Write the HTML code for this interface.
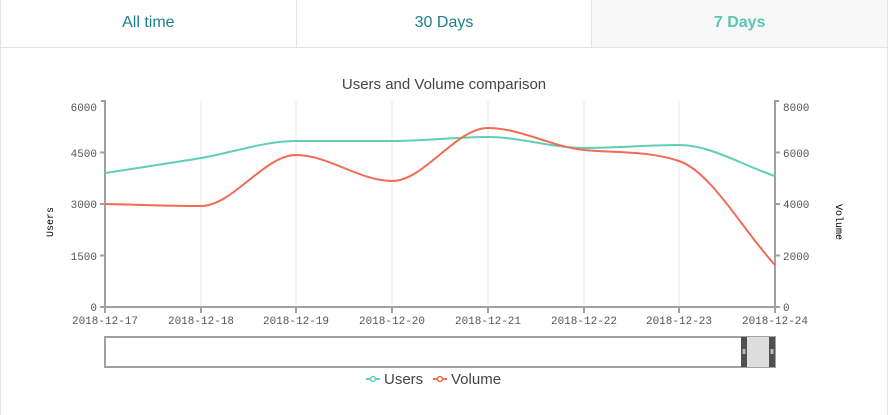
<!DOCTYPE html>
<html><head><meta charset="utf-8"><style>
body{margin:0;width:888px;height:415px;background:#fff;overflow:hidden;font-family:"Liberation Sans",sans-serif}
.tabs{position:absolute;left:0;top:0;width:886px;height:47px;border:1px solid #e4e4e4;border-top:none;display:flex}
.tab{flex:1;text-align:center;line-height:46px;font-size:16px;color:#1a7f8a;border-right:1px solid #e4e4e4}
.tab:last-child{border-right:none;background:#f8f8f8;color:#5cc6b0;font-weight:bold}
.frame{position:absolute;left:0;top:47px;width:886px;height:368px;border-left:1px solid #e4e4e4;border-right:1px solid #e4e4e4}
svg{position:absolute;left:0;top:0}
</style></head><body>
<div class="frame"></div>
<div class="tabs"><div class="tab">All time</div><div class="tab">30 Days</div><div class="tab">7 Days</div></div>
<svg width="888" height="415" id="s" font-family="Liberation Mono, monospace" font-size="11" fill="#555">
<text x="444" y="89" text-anchor="middle" font-family="Liberation Sans, sans-serif" font-size="15" fill="#444">Users and Volume comparison</text>
<g stroke="#e8e8e8" stroke-width="1">
<line x1="201" y1="101" x2="201" y2="307"/><line x1="296" y1="101" x2="296" y2="307"/><line x1="392" y1="101" x2="392" y2="307"/><line x1="488" y1="101" x2="488" y2="307"/><line x1="584" y1="101" x2="584" y2="307"/><line x1="679" y1="101" x2="679" y2="307"/>
</g>
<g stroke="#a0a0a0" stroke-width="2" fill="none">
<path d="M101 101H105V307"/><path d="M779 101H775V307"/>
<line x1="100" y1="307" x2="780" y2="307"/>
<line x1="100" y1="255.5" x2="105" y2="255.5"/><line x1="100" y1="204" x2="105" y2="204"/><line x1="100" y1="152.5" x2="105" y2="152.5"/>
<line x1="775" y1="255.5" x2="780" y2="255.5"/><line x1="775" y1="204" x2="780" y2="204"/><line x1="775" y1="152.5" x2="780" y2="152.5"/>
<line x1="201" y1="307" x2="201" y2="313"/><line x1="296" y1="307" x2="296" y2="313"/><line x1="392" y1="307" x2="392" y2="313"/><line x1="488" y1="307" x2="488" y2="313"/><line x1="584" y1="307" x2="584" y2="313"/><line x1="679" y1="307" x2="679" y2="313"/><line x1="105" y1="307" x2="105" y2="313"/><line x1="775" y1="307" x2="775" y2="313"/>
</g>
<g text-anchor="end"><text x="97" y="111">6000</text><text x="97" y="157">4500</text><text x="97" y="208">3000</text><text x="97" y="260">1500</text><text x="97" y="311">0</text></g>
<g><text x="783" y="111">8000</text><text x="783" y="157">6000</text><text x="783" y="208">4000</text><text x="783" y="260">2000</text><text x="783" y="311">0</text></g>
<g text-anchor="middle"><text x="105" y="324">2018-12-17</text><text x="201" y="324">2018-12-18</text><text x="296" y="324">2018-12-19</text><text x="392" y="324">2018-12-20</text><text x="488" y="324">2018-12-21</text><text x="584" y="324">2018-12-22</text><text x="679" y="324">2018-12-23</text><text x="775" y="324">2018-12-24</text></g>
<text transform="translate(53,222) rotate(-90)" text-anchor="middle" font-size="10" fill="#000">Users</text>
<text transform="translate(836,222) rotate(90)" text-anchor="middle" font-size="10" fill="#000">Volume</text>
<path id="u" fill="none" stroke="#5fcfb5" stroke-width="2"/>
<path id="v" fill="none" stroke="#f26b55" stroke-width="2"/>
<rect x="105" y="337" width="670" height="30" fill="#fff" stroke="#a0a0a0" stroke-width="2"/>
<rect x="746" y="337" width="24" height="30" fill="#ddd"/>
<rect x="741" y="337" width="6" height="30" fill="#505050"/><rect x="769" y="337" width="6" height="30" fill="#505050"/>
<rect x="742.5" y="349" width="3" height="5" fill="#bbb"/><rect x="770.5" y="349" width="3" height="5" fill="#bbb"/>
<g font-family="Liberation Sans, sans-serif" font-size="15" fill="#444">
<line x1="366" y1="379" x2="380" y2="379" stroke="#5fcfb5" stroke-width="2"/><circle cx="373" cy="379" r="2.5" fill="#fff" stroke="#5fcfb5" stroke-width="1.5"/>
<text x="384" y="384">Users</text>
<line x1="433" y1="379" x2="447" y2="379" stroke="#f26b55" stroke-width="2"/><circle cx="440" cy="379" r="2.5" fill="#fff" stroke="#f26b55" stroke-width="1.5"/>
<text x="451" y="384">Volume</text>
</g>
</svg>
<script>
var xs=[105,201,296,392,488,584,679,775];
function mono(ys){var n=xs.length,d=[],m=[];for(var i=0;i<n-1;i++)d.push((ys[i+1]-ys[i])/(xs[i+1]-xs[i]));
m[0]=d[0];m[n-1]=d[n-2];for(i=1;i<n-1;i++){m[i]=(d[i-1]*d[i]<=0)?0:(d[i-1]+d[i])/2;}
for(i=0;i<n-1;i++){if(d[i]==0){m[i]=m[i+1]=0;continue;}var a=m[i]/d[i],b=m[i+1]/d[i],s=a*a+b*b;if(s>9){var t=3/Math.sqrt(s);m[i]=t*a*d[i];m[i+1]=t*b*d[i];}}
var p="M"+xs[0]+" "+ys[0];for(i=0;i<n-1;i++){var h=(xs[i+1]-xs[i])/3;p+=" C"+(xs[i]+h)+" "+(ys[i]+m[i]*h)+" "+(xs[i+1]-h)+" "+(ys[i+1]-m[i+1]*h)+" "+xs[i+1]+" "+ys[i+1];}return p;}
document.getElementById('u').setAttribute('d',mono([173,158,141,141,137,148,145,176]));
document.getElementById('v').setAttribute('d',mono([204,206,155,181,128,150,161,265]));
</script>
</body></html>
